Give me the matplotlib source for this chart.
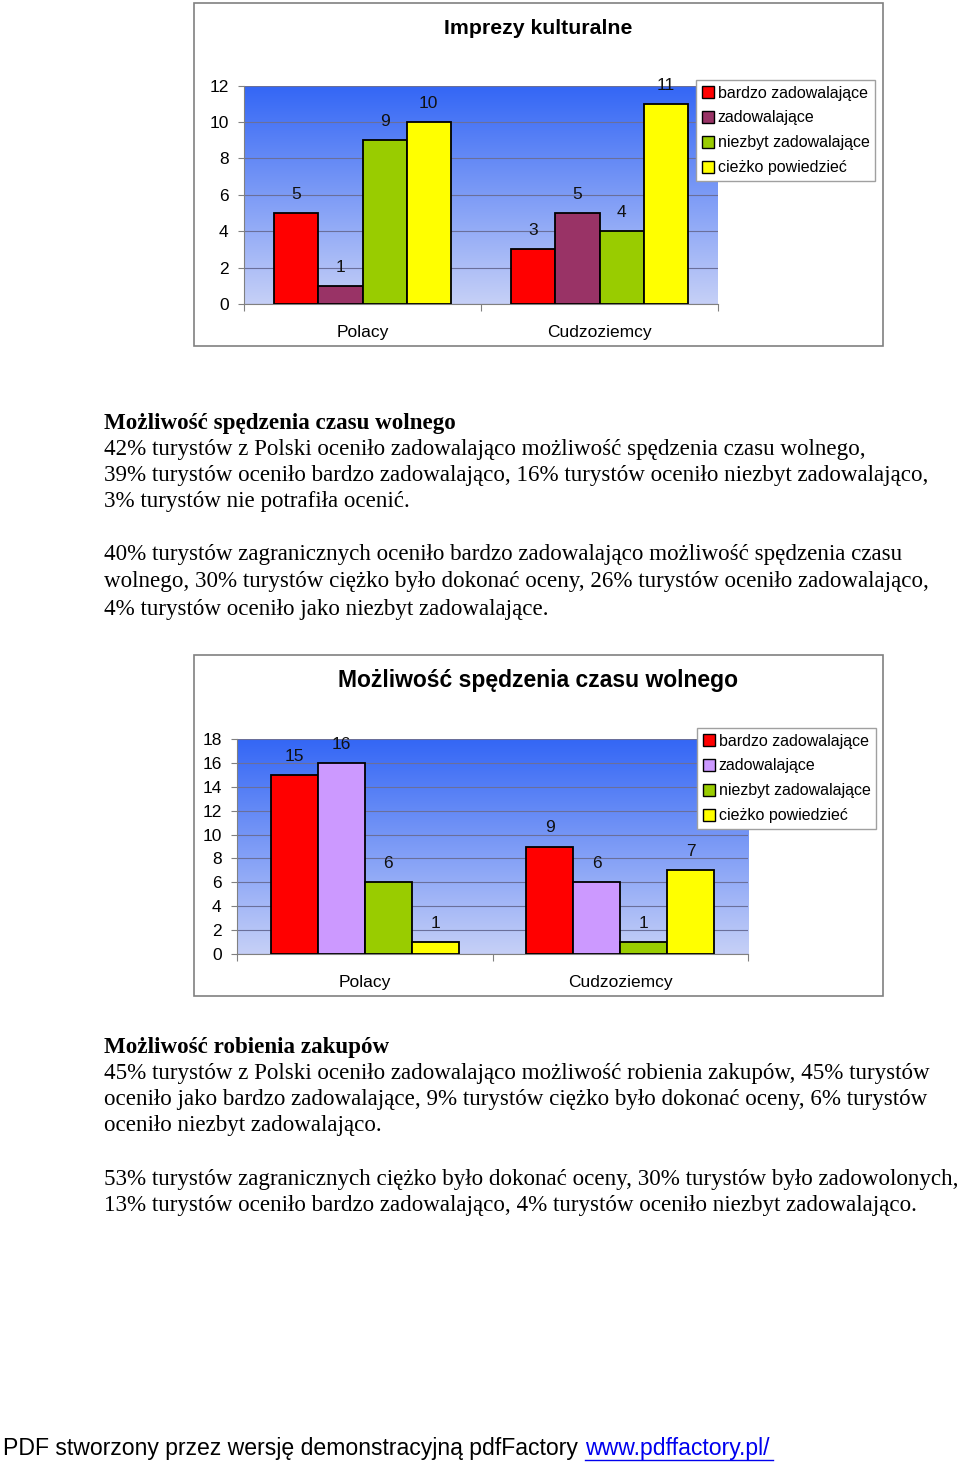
import numpy as np
import matplotlib
matplotlib.use('Agg')
import matplotlib.pyplot as plt
from matplotlib.patches import Rectangle, Patch
from matplotlib.lines import Line2D
from matplotlib.colors import LinearSegmentedColormap

W, H = 960, 1463

grupy = ['Polacy', 'Cudzoziemcy']
oceny = ['bardzo zadowalające', 'zadowalające', 'niezbyt zadowalające', 'cieżko powiedzieć']

# wykres 1 - imprezy kulturalne
imprezy_polacy = [5, 1, 9, 10]
imprezy_cudzoziemcy = [3, 5, 4, 11]
# wykres 2 - czas wolny
wolny_polacy = [15, 16, 6, 1]
wolny_cudzoziemcy = [9, 6, 1, 7]

kolory1 = ['#FF0000', '#993366', '#99CC00', '#FFFF00']
kolory2 = ['#FF0000', '#CC99FF', '#99CC00', '#FFFF00']

SANS = 'Liberation Sans'
SERIF = 'Liberation Serif'

tlo = LinearSegmentedColormap.from_list('tlo', ['#3366F5', '#C6D0F7'])


def fx(x): return x / W
def fy(y): return 1 - y / H


def ramka(fig, x0, y0, x1, y1):
    fig.patches.append(Rectangle((fx(x0), fy(y1)), (x1 - x0) / W, (y1 - y0) / H,
                                 transform=fig.transFigure, fill=False,
                                 edgecolor='#808080', lw=1.2))


def wykres(fig, osie, pudlo, leg, tytul, tytul_y, tytul_fs, pol, cud, kolory, ymax, bw):
    ramka(fig, *pudlo)
    l, t, r, b = osie
    ax = fig.add_axes([fx(l), fy(b), (r - l) / W, (b - t) / H])
    grad = np.linspace(0, 1, 256).reshape(-1, 1)
    ax.imshow(grad, extent=[-0.5, 1.5, 0, ymax], aspect='auto', cmap=tlo,
              origin='upper', zorder=0)
    x = np.arange(len(grupy))
    for i in range(len(oceny)):
        bars = ax.bar(x + (i - 1.5) * bw, [pol[i], cud[i]], bw, color=kolory[i],
                      edgecolor='black', lw=1.3, zorder=3, label=oceny[i])
        ax.bar_label(bars, padding=8, fontsize=12.5, family=SANS, color='#111111')
    ax.set_xlim(-0.5, 1.5)
    ax.set_ylim(0, ymax)
    ax.set_yticks(range(0, ymax + 1, 2))
    ax.yaxis.grid(True, color='#6a6f9a', lw=0.8, zorder=1)
    ax.set_axisbelow(True)
    ax.set_xticks([-0.5, 0.5, 1.5])
    ax.set_xticklabels([])
    ax.set_xticks(x, minor=True)
    ax.set_xticklabels(grupy, minor=True, fontsize=12.5, family=SANS)
    ax.tick_params(axis='x', which='minor', length=0, pad=15)
    ax.tick_params(axis='x', which='major', length=5, color='#808080')
    ax.tick_params(axis='y', length=4, pad=7, color='#808080', labelsize=12.5)
    for lab in ax.get_yticklabels():
        lab.set_family(SANS)
    for s in ['top', 'right']:
        ax.spines[s].set_visible(False)
    for s in ['left', 'bottom']:
        ax.spines[s].set_color('#808080')
    fig.text(fx((pudlo[0] + pudlo[2]) / 2), fy(tytul_y), tytul, ha='center', va='center',
             fontsize=tytul_fs, fontweight='bold', family=SANS)
    uchwyty = [Patch(facecolor=c, edgecolor='black', lw=1) for c in kolory]
    fig.legend(uchwyty, oceny, loc='upper left', bbox_to_anchor=(fx(leg[0]), fy(leg[1])),
               bbox_transform=fig.transFigure, borderaxespad=0, fancybox=False,
               edgecolor='#a0a0a0', framealpha=1, prop={'family': SANS, 'size': 11.5},
               handlelength=0.75, handleheight=0.75, handletextpad=0.25,
               labelspacing=0.62, borderpad=0.35)
    return ax


fig = plt.figure(figsize=(W / 100, H / 100), dpi=100)

wykres(fig, (244, 85.5, 718, 304), (194, 3, 883, 346), (696, 80),
       'Imprezy kulturalne', 28, 15.3, imprezy_polacy, imprezy_cudzoziemcy, kolory1, 12, 0.186)

# tekst miedzy wykresami
akapity = [
    (421, 'Możliwość spędzenia czasu wolnego', 'bold'),
    (448, '42% turystów z Polski oceniło zadowalająco możliwość spędzenia czasu wolnego,', 'normal'),
    (474, '39% turystów oceniło bardzo zadowalająco, 16% turystów oceniło niezbyt zadowalająco,', 'normal'),
    (500, '3% turystów nie potrafiła ocenić.', 'normal'),
    (553, '40% turystów zagranicznych oceniło bardzo zadowalająco możliwość spędzenia czasu', 'normal'),
    (580, 'wolnego, 30% turystów ciężko było dokonać oceny, 26% turystów oceniło zadowalająco,', 'normal'),
    (607, '4% turystów oceniło jako niezbyt zadowalające.', 'normal'),
    (1045, 'Możliwość robienia zakupów', 'bold'),
    (1071, '45% turystów z Polski oceniło zadowalająco możliwość robienia zakupów, 45% turystów', 'normal'),
    (1098, 'oceniło jako bardzo zadowalające, 9% turystów ciężko było dokonać oceny, 6% turystów', 'normal'),
    (1124, 'oceniło niezbyt zadowalająco.', 'normal'),
    (1177, '53% turystów zagranicznych ciężko było dokonać oceny, 30% turystów było zadowolonych,', 'normal'),
    (1204, '13% turystów oceniło bardzo zadowalająco, 4% turystów oceniło niezbyt zadowalająco.', 'normal'),
]
for y, s, w in akapity:
    fig.text(fx(104), fy(y + 2), s, ha='left', va='center', fontsize=16.6, family=SERIF,
             fontweight=w)

wykres(fig, (237, 739, 748, 954), (194, 655, 883, 996), (697, 728),
       'Możliwość spędzenia czasu wolnego', 681, 16.5, wolny_polacy, wolny_cudzoziemcy,
       kolory2, 18, 0.184)

# stopka
fig.text(fx(3), fy(1449), 'PDF stworzony przez wersję demonstracyjną pdfFactory', ha='left',
         va='center', fontsize=16.6, family=SANS)
fig.text(fx(585), fy(1449), 'www.pdffactory.pl/', ha='left', va='center', fontsize=16.6,
         family=SANS, color='#0000EE')
fig.lines.append(Line2D([fx(585), fx(773)], [fy(1460), fy(1460)], transform=fig.transFigure,
                        color='#0000EE', lw=1))

fig.savefig('out.png', dpi=100)
